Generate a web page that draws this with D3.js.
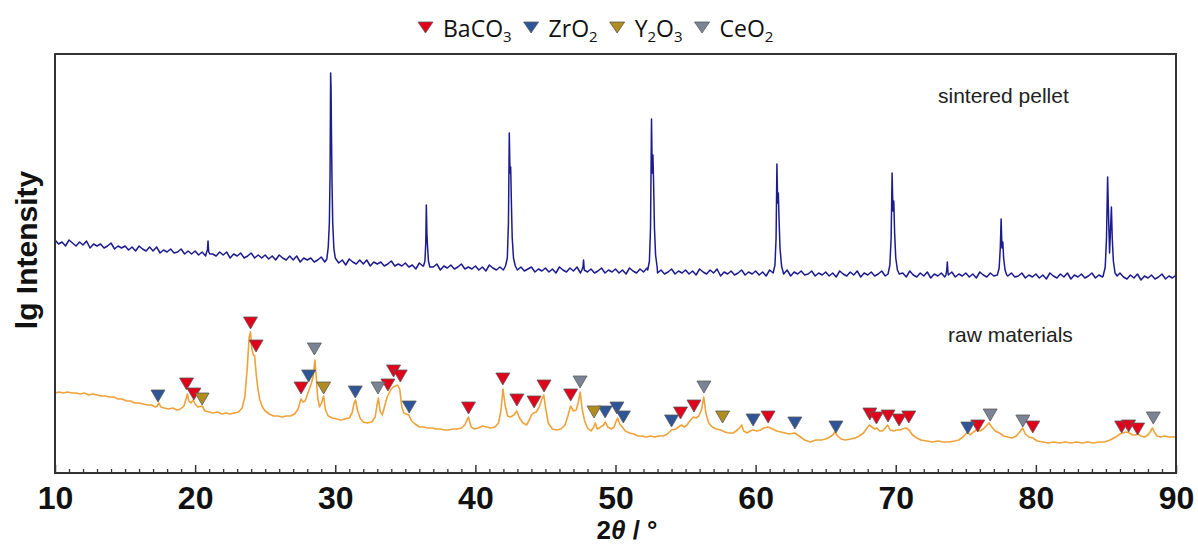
<!DOCTYPE html>
<html><head><meta charset="utf-8">
<script src="https://cdn.jsdelivr.net/npm/d3@7"></script>
<style>body{margin:0;background:#fff}svg{display:block}</style>
</head><body>
<svg id="chart" width="1198" height="547"></svg>
<script>
// ---------- data ----------
const xTicks = [10, 20, 30, 40, 50, 60, 70, 80, 90];
const xMinorTicks = d3.range(11, 90).filter(v => v % 10 !== 0);

// sintered pellet: background sampled every 0.25° from 10°, plus peak profiles ([2θ, lg I (a.u.)])
const blueBaseStart = 10, blueBaseStep = 0.25;
const blueBase = [
233,229,231,227,233,230,227,231,228,232,225,229,227,229,225,227,230,224,227,225,227,223,226,222,227,224,222,226,222,226,220,223,221,224,220,221,224,
219,222,219,222,218,221,217,222,219,217,221,218,221,215,219,217,220,215,217,220,215,218,215,218,214,217,213,218,215,213,217,213,217,211,215,213,215,211,213,
216,211,213,211,214,210,213,208,214,211,209,213,209,213,207,211,209,211,207,209,212,207,209,207,210,206,208,204,210,
207,205,209,206,209,203,207,205,208,204,206,209,204,206,204,207,203,206,202,208,205,203,206,203,207,201,205,203,206,202,204,206,201,204,202,205,
201,204,200,206,203,201,205,202,206,200,203,201,204,200,202,205,200,203,201,204,200,203,199,205,202,200,204,201,205,199,202,200,203,199,201,204,199,202,200,203,199,202,198,204,201,199,203,200,204,197,201,199,202,198,200,203,198,201,199,202,
198,201,197,203,200,198,202,199,203,197,201,199,202,198,
199,202,197,200,198,201,197,200,196,202,199,197,201,198,202,196,200,198,201,197,199,202,197,200,198,201,197,200,196,202,
198,196,200,197,201,195,199,197,200,196,198,201,196,199,197,200,196,199,195,201,198,196,200,197,201,195,199,197,200,196,
197,200,195,198,196,199,195,198,194,200,197,195,199,196,200,194,198,196,199,195,197,200,195,198,196,199,195,198,194,200,
196,194,198,195,199,193,197,195,198,194,196,199,194,197,195,198
];
const bluePeaks = [
  [[20.8,220],[20.88,223],[20.92,232],[20.97,221],[21.05,219]],
  [[29.4,214],[29.5,226],[29.58,250],[29.63,300],[29.67,400],[29.7,385],[29.73,340],[29.77,290],[29.82,250],[29.9,225],[30.0,215]],
  [[36.3,207],[36.4,212],[36.46,230],[36.5,268],[36.54,240],[36.58,228],[36.65,212],[36.75,206]],
  [[42.15,207],[42.28,215],[42.36,250],[42.42,340],[42.47,300],[42.52,306],[42.57,270],[42.63,235],[42.72,215],[42.85,207]],
  [[47.6,203],[47.68,206],[47.72,213],[47.77,203]],
  [[52.3,203],[52.42,212],[52.5,245],[52.57,354],[52.62,300],[52.67,318],[52.72,290],[52.78,245],[52.86,218],[52.98,205]],
  [[61.25,200],[61.38,208],[61.46,235],[61.52,309],[61.57,270],[61.62,280],[61.67,255],[61.74,225],[61.85,207],[61.98,200]],
  [[69.45,199],[69.58,208],[69.67,235],[69.74,300],[69.8,262],[69.86,272],[69.92,240],[70.0,215],[70.12,203],[70.25,199]],
  [[73.58,198],[73.64,203],[73.68,211],[73.73,200]],
  [[77.25,198],[77.38,205],[77.46,225],[77.52,254],[77.58,225],[77.64,231],[77.7,215],[77.8,203],[77.92,198]],
  [[84.8,197],[84.95,206],[85.04,235],[85.12,296],[85.2,250],[85.26,220],[85.33,245],[85.39,266],[85.45,235],[85.53,212],[85.65,200],[85.8,197]]
];

// raw materials ([2θ, lg I (a.u.)])
const orangeData = [
[10.0,80],[10.3,81],[10.6,80],[10.9,81],[11.2,80],[11.5,80],[11.8,79],[12.1,80],[12.4,78],[12.7,79],[13.0,78],[13.3,77],[13.6,77],[13.9,76],[14.2,76],[14.5,74],[14.8,74],[15.1,72],[15.4,72],[15.7,70],[16.0,70],[16.3,69],[16.6,68],[16.9,68],[17.15,66],[17.3,67],[17.42,70],[17.55,66],[17.8,65],[18.1,64],[18.4,65],[18.7,63],[18.95,64],
[19.2,67],[19.35,74],[19.45,79],[19.55,72],[19.7,70],[19.86,73],[20.0,69],[20.2,66],[20.5,67],[20.7,62],[21.0,61],[21.3,60],[21.6,61],[21.9,59],[22.2,60],[22.5,59],[22.8,60],[23.1,61],[23.35,65],[23.55,76],[23.72,105],[23.85,135],[23.95,141],[24.05,124],[24.15,118],[24.25,117],[24.35,100],[24.48,84],[24.62,73],[24.8,66],[25.0,62],[25.3,59],[25.6,57],[25.9,57],[26.2,56],[26.5,57],[26.8,57],[27.1,59],[27.35,64],[27.55,74],[27.7,71],[27.85,72],[28.0,78],[28.15,84],[28.3,90],[28.42,96],[28.55,113],[28.65,95],[28.75,75],[28.88,66],[29.02,70],[29.17,77],[29.3,63],[29.5,57],[29.8,55],
[30.1,54],[30.4,53],[30.7,54],[31.0,55],[31.2,60],[31.35,70],[31.45,73],[31.6,62],[31.8,54],[32.0,51],[32.3,50],[32.6,51],[32.85,56],[32.98,68],[33.08,75],[33.2,62],[33.35,58],[33.55,68],[33.7,76],[33.85,80],[34.0,84],[34.15,86],[34.3,87],[34.45,88],[34.6,84],[34.75,66],[34.9,60],[35.05,59],[35.25,58],[35.45,52],[35.7,49],[36.0,46],[36.3,46],[36.6,45],[36.9,45],[37.2,44],[37.5,44],[37.8,43],[38.1,43],[38.4,44],[38.7,44],[39.0,45],[39.25,48],[39.5,56],[39.7,46],[39.95,44],
[40.2,45],[40.5,47],[40.8,46],[41.1,45],[41.4,46],[41.65,50],[41.82,62],[41.97,84],[42.12,68],[42.3,57],[42.5,56],[42.75,58],[42.95,62],[43.15,55],[43.4,50],[43.65,48],[43.85,53],[44.0,58],[44.15,60],[44.35,61],[44.55,66],[44.75,74],[44.88,78],[45.0,66],[45.2,50],[45.5,44],[45.8,43],[46.1,44],[46.4,48],[46.6,57],[46.8,67],[47.0,62],[47.2,63],[47.35,71],[47.48,81],[47.62,64],[47.8,52],[48.0,45],[48.25,42],[48.45,46],[48.55,50],[48.7,44],[48.95,46],[49.15,48],[49.28,51],[49.45,46],[49.7,44],[49.9,46],
[50.05,52],[50.15,55],[50.3,49],[50.48,46],[50.7,42],[51.0,40],[51.3,39],[51.6,37],[51.9,37],[52.2,36],[52.5,37],[52.8,36],[53.1,37],[53.4,37],[53.7,39],[54.0,43],[54.3,44],[54.5,46],[54.72,48],[54.9,46],[55.1,48],[55.3,52],[55.55,56],[55.75,55],[55.95,57],[56.15,64],[56.3,76],[56.45,60],[56.65,50],[56.9,46],[57.2,44],[57.5,43],[57.8,41],[58.1,40],[58.4,40],[58.7,43],[58.9,46],[59.0,48],[59.15,42],[59.4,40],[59.6,42],[59.82,43],
[60.1,42],[60.35,43],[60.6,45],[60.89,46],[61.2,44],[61.5,42],[61.8,41],[62.1,40],[62.4,39],[62.8,40],[63.1,37],[63.5,33],[63.9,31],[64.3,33],[64.7,33],[65.0,34],[65.3,36],[65.5,38],[65.65,41],[65.85,37],[66.1,34],[66.4,33],[66.8,34],[67.1,35],[67.4,37],[67.7,40],[67.95,45],[68.12,48],[68.3,46],[68.5,44],[68.65,45],[68.85,42],[69.05,42],[69.25,45],[69.42,48],[69.6,43],[69.85,42],
[70.05,43],[70.3,43],[70.5,44],[70.75,45],[70.95,43],[71.2,38],[71.5,35],[71.8,33],[72.2,32],[72.6,31],[73.0,32],[73.4,31],[73.8,31],[74.2,32],[74.5,33],[74.8,36],[75.0,39],[75.12,41],[75.3,38],[75.55,41],[75.75,43],[76.0,42],[76.25,44],[76.45,47],[76.65,50],[76.85,46],[77.1,42],[77.4,40],[77.7,37],[78.0,36],[78.3,35],[78.6,37],[78.85,41],[79.05,45],[79.25,39],[79.5,36],[79.78,35],
[80.1,32],[80.5,31],[80.9,30],[81.3,31],[81.7,30],[82.1,31],[82.5,30],[82.9,31],[83.3,30],[83.7,31],[84.1,30],[84.5,31],[84.9,31],[85.3,33],[85.7,36],[86.0,39],[86.2,40],[86.45,41],[86.68,40],[86.9,38],[87.1,38],[87.27,39],[87.5,37],[87.75,36],[88.0,38],[88.2,42],[88.32,45],[88.45,41],[88.65,37],[88.9,36],[89.2,37],[89.5,36],[89.8,36],[90.0,36]
];

// phase reflection markers ([2θ, marker level])
const baco3Marks = [[19.39,89],[19.91,79],[23.95,150],[24.35,127],[27.56,85],[33.76,88],[34.16,102],[34.64,97],[39.51,65],[41.96,94],[42.96,73],[44.19,71],[44.9,87],[46.8,78],[54.64,60],[55.6,67],[60.89,56],[68.15,59],[68.62,55],[69.45,57],[70.24,53],[70.93,56],[75.85,47],[79.78,46],[86.12,46],[86.62,47],[87.26,44]];
const zro2Marks = [[17.35,77],[28.1,97],[31.43,81],[35.28,66],[49.26,61],[50.1,65],[50.56,56],[54.0,52],[59.82,53],[62.8,50],[65.73,46],[75.14,45]];
const y2o3Marks = [[20.5,74],[29.17,85],[48.47,61],[57.64,56]];
const ceo2Marks = [[28.51,124],[33.05,85],[47.47,91],[56.31,86],[76.74,58],[79.07,52],[88.38,55]];

const phaseNames = ["BaCO_3", "ZrO_2", "Y_2O_3", "CeO_2"];
const phaseColors = ["#e2001a", "#2e5597", "#b08d1e", "#7b8494"];
const phaseMarks = [baco3Marks, zro2Marks, y2o3Marks, ceo2Marks];

const curveLabels = ["sintered pellet", "raw materials"];
const yLabel = "lg Intensity";

// ---------- drawing ----------
const svg = d3.select("#chart");
const L = 55, R = 1176, T = 54, B = 473;
const x = d3.scaleLinear().domain([10, 90]).range([L, R]);
const y = d3.scaleLinear().domain([0, 419]).range([B, T]);

// build sintered series
let bluePts = blueBase.map((v, i) => [blueBaseStart + i * blueBaseStep, v]);
bluePeaks.forEach(g => {
  const a = g[0][0], b = g[g.length - 1][0];
  bluePts = bluePts.filter(p => p[0] < a || p[0] > b).concat(g);
});
bluePts.sort((p, q) => p[0] - q[0]);

const line = d3.line().x(d => x(d[0])).y(d => y(d[1]));

svg.append("path").attr("d", line(bluePts))
  .attr("fill", "none").attr("stroke", "#1c1c8e").attr("stroke-width", 1.5).attr("stroke-linejoin", "round");
svg.append("path").attr("d", line(orangeData))
  .attr("fill", "none").attr("stroke", "#efa23a").attr("stroke-width", 1.6).attr("stroke-linejoin", "round");

// markers
function tri(cx, cy, w, h) {
  return `M${cx - w / 2},${cy - h / 2}L${cx + w / 2},${cy - h / 2}L${cx},${cy + h / 2}Z`;
}
phaseMarks.forEach((marks, k) => {
  svg.append("g").selectAll("path").data(marks).join("path")
    .attr("d", d => tri(x(d[0]), y(d[1]), 14, 12))
    .attr("fill", phaseColors[k]).attr("stroke", "#5a5a5a").attr("stroke-width", 0.8);
});

// axes
const gx = svg.append("g").attr("transform", `translate(0,${B})`)
  .call(d3.axisBottom(x).tickValues(xTicks).tickSize(-8).tickPadding(13).tickFormat(d3.format("d")));
gx.select(".domain").remove();
gx.selectAll(".tick line").attr("stroke", "#333").attr("stroke-width", 1.5);
gx.selectAll(".tick text").attr("font-family", "'Liberation Sans', Arial, sans-serif")
  .attr("font-weight", "bold").attr("font-size", 32).attr("fill", "#111");
const gm = svg.append("g").attr("transform", `translate(0,${B})`)
  .call(d3.axisBottom(x).tickValues(xMinorTicks).tickSize(-4).tickFormat(""));
gm.select(".domain").remove();
gm.selectAll(".tick line").attr("stroke", "#333").attr("stroke-width", 1.3);
gm.selectAll(".tick text").remove();

// frame
svg.append("rect").attr("x", L).attr("y", T).attr("width", R - L).attr("height", B - T)
  .attr("fill", "none").attr("stroke", "#333").attr("stroke-width", 2);

// axis titles
svg.append("text").attr("transform", "translate(37,250) rotate(-90)")
  .attr("text-anchor", "middle").attr("font-family", "'Liberation Sans', Arial, sans-serif")
  .attr("font-weight", "bold").attr("font-size", 30).attr("fill", "#111").text(yLabel);
const xt = svg.append("text").attr("x", 627).attr("y", 539).attr("text-anchor", "middle")
  .attr("font-family", "'Liberation Sans', Arial, sans-serif").attr("font-weight", "bold")
  .attr("font-size", 26).attr("fill", "#111");
xt.append("tspan").text("2");
xt.append("tspan").attr("font-style", "italic").text("θ");
xt.append("tspan").text(" / °");

// curve labels
svg.append("text").attr("x", 938).attr("y", 103).attr("font-family", "'Liberation Sans', Arial, sans-serif")
  .attr("font-size", 21).attr("fill", "#222").text(curveLabels[0]);
svg.append("text").attr("x", 948).attr("y", 342).attr("font-family", "'Liberation Sans', Arial, sans-serif")
  .attr("font-size", 21).attr("fill", "#222").text(curveLabels[1]);

// legend
let lx = 418;
phaseNames.forEach((name, k) => {
  svg.append("path").attr("d", tri(lx + 7.5, 27.5, 15, 11)).attr("fill", phaseColors[k])
    .attr("stroke", "#5a5a5a").attr("stroke-width", 0.8);
  const t = svg.append("text").attr("x", lx + 25).attr("y", 37)
    .attr("font-family", "'Open Sans', 'Noto Sans', sans-serif").attr("font-size", 23).attr("fill", "#111");
  const parts = name.split(/(_\d)/).filter(s => s.length);
  let shift = 0;
  parts.forEach(p => {
    if (p[0] === "_") {
      t.append("tspan").attr("font-size", 15).attr("dy", 5 - shift).text(p.slice(1));
      shift = 5;
    } else {
      t.append("tspan").attr("dy", -shift).text(p);
      shift = 0;
    }
  });
  const w = t.node().getComputedTextLength();
  lx = lx + 25 + w + 12;
});
</script>
</body></html>
